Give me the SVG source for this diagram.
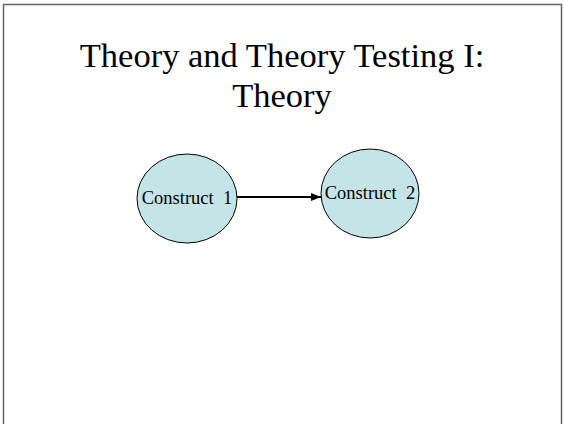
<svg xmlns="http://www.w3.org/2000/svg" width="564" height="424" viewBox="0 0 564 424">
<style>
.title{font-family:"Liberation Serif",serif;font-size:34.5px;fill:#000;text-anchor:middle}
.node{fill:#c5e4e8;stroke:#000;stroke-width:1}
.lbl{font-family:"Liberation Serif",serif;font-size:18.5px;fill:#000;text-anchor:middle;white-space:pre}
.conn{stroke:#000;stroke-width:2;fill:none}
</style>
<defs>
<marker id="arr" viewBox="0 0 10 8" refX="10" refY="4" markerWidth="10" markerHeight="8" markerUnits="userSpaceOnUse" orient="auto">
<path d="M0,0 L10,4 L0,8 Z" fill="#000"/>
</marker>
</defs>
<rect x="3.5" y="4.5" width="558" height="430" fill="#fff" stroke="#666" stroke-width="1.5"/>
<g id="title">
<text class="title" x="282" y="67">Theory and Theory Testing I:</text>
<text class="title" x="282" y="107">Theory</text>
</g>
<g id="connectors">
<line class="conn" x1="237" y1="197" x2="321" y2="197" marker-end="url(#arr)"/>
</g>
<g id="construct1">
<ellipse class="node" cx="187" cy="198.5" rx="50" ry="44.5"/>
<text class="lbl" x="187" y="204" xml:space="preserve">Construct  1</text>
</g>
<g id="construct2">
<ellipse class="node" cx="370" cy="193.5" rx="49" ry="44.5"/>
<text class="lbl" x="370" y="199" xml:space="preserve">Construct  2</text>
</g>
</svg>
